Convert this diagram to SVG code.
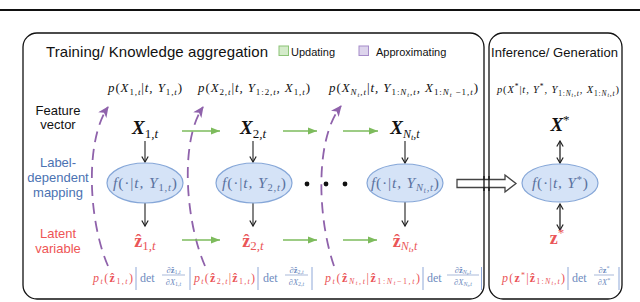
<svg xmlns="http://www.w3.org/2000/svg" width="640" height="302" viewBox="0 0 640 302">
<style>
.sans{font-family:"Liberation Sans",Arial,sans-serif}
.mi{font-family:"Liberation Serif","DejaVu Serif",serif;font-style:italic}
.up{font-style:normal}
.bf{font-weight:bold}
.nw{font-weight:normal}
.box{fill:none;stroke:#111;stroke-width:1.3}
.ell{fill:#d5e3f7;stroke:#86a7d8;stroke-width:1.2}
.et{fill:#5a72a0;font-size:15.5px}
.red{fill:#ea5558}
.blu{fill:#6f8cc0}
.bar{stroke:#8fa8d8;stroke-width:1}
.fl{stroke:#6f8cc0;stroke-width:0.6}
.ga{stroke:#7dbb5c;stroke-width:1.3;fill:none;marker-end:url(#ag)}
.ka{stroke:#333;stroke-width:1.2;fill:none;marker-end:url(#ak)}
.kd{stroke:#111;stroke-width:1.2;fill:none;marker-end:url(#ak);marker-start:url(#aks)}
.pd{stroke:#8f62ab;stroke-width:1.8;fill:none;stroke-dasharray:11 7;marker-end:url(#ap)}
</style>
<defs>
<marker id="ak" markerWidth="8" markerHeight="8" refX="6.5" refY="4" orient="auto" markerUnits="userSpaceOnUse"><path d="M1,0.8 L6.5,4 L1,7.2" fill="none" stroke="#222" stroke-width="1.2"/></marker>
<marker id="aks" markerWidth="8" markerHeight="8" refX="6.5" refY="4" orient="auto-start-reverse" markerUnits="userSpaceOnUse"><path d="M1,0.8 L6.5,4 L1,7.2" fill="none" stroke="#222" stroke-width="1.2"/></marker>
<marker id="ag" markerWidth="10" markerHeight="8" refX="9" refY="4" orient="auto" markerUnits="userSpaceOnUse"><path d="M0,0.5 L9,4 L0,7.5 z" fill="#7dbb5c"/></marker>
<marker id="ap" markerWidth="12" markerHeight="12" refX="10" refY="5" orient="auto" markerUnits="userSpaceOnUse"><path d="M0,0 L11,5 L0,10 L3,5 z" fill="#8f62ab"/></marker>
</defs>
<rect width="640" height="302" fill="#fff"/>
<line x1="0" y1="10" x2="640" y2="10" stroke="#111" stroke-width="1.8"/>

<g id="training-panel">
<rect class="box" x="23" y="33" width="461" height="266" rx="14"/>
<text class="sans" x="46" y="57" font-size="15" textLength="222" fill="#111">Training/ Knowledge aggregation</text>
<rect x="279" y="46" width="9.5" height="9.5" fill="#d4ebca" stroke="#8cc477" stroke-width="1"/>
<text class="sans" x="291" y="56" font-size="11" fill="#111">Updating</text>
<rect x="359" y="46" width="9.5" height="9.5" fill="#ddd4ec" stroke="#a68cc9" stroke-width="1"/>
<text class="sans" x="376" y="56" font-size="11" fill="#111">Approximating</text>
</g>
<g id="inference-panel">
<rect class="box" x="489" y="33" width="133" height="266" rx="14"/>
<text class="sans" x="491" y="57" font-size="13" textLength="127" fill="#111">Inference/ Generation</text>
</g>

<g id="row-labels" class="sans" font-size="13" text-anchor="middle">
<text x="58" y="115" fill="#111">Feature</text>
<text x="58" y="129" fill="#111">vector</text>
<text x="58" y="167" fill="#4b72b2">Label-</text>
<text x="58" y="182" fill="#4b72b2">dependent</text>
<text x="58" y="197" fill="#4b72b2">mapping</text>
<text x="58" y="238" fill="#ee5555">Latent</text>
<text x="58" y="253" fill="#ee5555">variable</text>
</g>

<g id="top-formulas" class="mi" fill="#111">
<text x="108" y="92" font-size="13" textLength="74">p<tspan class="up">(</tspan>X<tspan font-size="9" dy="3"><tspan class="up">1</tspan>,t</tspan><tspan font-size="13" dy="-3" class="up">|</tspan>t, Y<tspan font-size="9" dy="3"><tspan class="up">1</tspan>,t</tspan><tspan font-size="13" dy="-3" class="up">)</tspan></text>
<text x="198" y="92" font-size="13" textLength="112">p<tspan class="up">(</tspan>X<tspan font-size="9" dy="3"><tspan class="up">2</tspan>,t</tspan><tspan font-size="13" dy="-3" class="up">|</tspan>t, Y<tspan font-size="9" dy="3"><tspan class="up">1:2</tspan>,t</tspan><tspan font-size="13" dy="-3">, X</tspan><tspan font-size="9" dy="3"><tspan class="up">1</tspan>,t</tspan><tspan font-size="13" dy="-3" class="up">)</tspan></text>
<text x="329" y="92" font-size="13" textLength="149">p<tspan class="up">(</tspan>X<tspan font-size="9" dy="3">N</tspan><tspan font-size="6.5" dy="1.5">t</tspan><tspan font-size="9" dy="-1.5">,t</tspan><tspan font-size="13" dy="-3" class="up">|</tspan>t, Y<tspan font-size="9" dy="3"><tspan class="up">1:</tspan>N</tspan><tspan font-size="6.5" dy="1.5">t</tspan><tspan font-size="9" dy="-1.5">,t</tspan><tspan font-size="13" dy="-3">, X</tspan><tspan font-size="9" dy="3"><tspan class="up">1:</tspan>N</tspan><tspan font-size="6.5" dy="1.5">t</tspan><tspan font-size="9" dy="-1.5"><tspan class="up"> −1</tspan>,t</tspan><tspan font-size="13" dy="-3" class="up">)</tspan></text>
<text x="497" y="93" font-size="10.5" textLength="122">p<tspan class="up">(</tspan>X<tspan font-size="7.5" dy="-4" class="up">*</tspan><tspan font-size="10.5" dy="4" class="up">|</tspan>t, Y<tspan font-size="7.5" dy="-4" class="up">*</tspan><tspan font-size="10.5" dy="4">, Y</tspan><tspan font-size="7.5" dy="2.5"><tspan class="up">1:</tspan>N</tspan><tspan font-size="5.5" dy="1.2">t</tspan><tspan font-size="7.5" dy="-1.2">,t</tspan><tspan font-size="10.5" dy="-2.5">, X</tspan><tspan font-size="7.5" dy="2.5"><tspan class="up">1:</tspan>N</tspan><tspan font-size="5.5" dy="1.2">t</tspan><tspan font-size="7.5" dy="-1.2">,t</tspan><tspan font-size="10.5" dy="-2.5" class="up">)</tspan></text>
</g>

<g id="connectors">
<path class="pd" d="M108,266 C88,220 85,140 108,107"/>
<path class="pd" d="M205,266 C185,220 180,140 203,107"/>
<path class="pd" d="M334,266 C318,220 314,140 341,106"/>
<line class="ga" x1="182" y1="131" x2="220" y2="131"/>
<line class="ga" x1="283" y1="131" x2="317" y2="131"/>
<line class="ga" x1="343" y1="131" x2="378" y2="131"/>
<line class="ga" x1="182" y1="240" x2="220" y2="240"/>
<line class="ga" x1="283" y1="240" x2="317" y2="240"/>
<line class="ga" x1="343" y1="240" x2="377" y2="240"/>
<line class="ka" x1="145" y1="141" x2="145" y2="162"/>
<line class="ka" x1="253" y1="141" x2="253" y2="162"/>
<line class="ka" x1="405" y1="141" x2="405" y2="163"/>
<line class="ka" x1="145" y1="203" x2="145" y2="226"/>
<line class="ka" x1="253" y1="203" x2="253" y2="226"/>
<line class="ka" x1="405" y1="202" x2="405" y2="226"/>
<line class="kd" x1="560" y1="141" x2="560" y2="163"/>
<line class="kd" x1="560" y1="204" x2="560" y2="230"/>
<polygon points="457,179.5 505,179.5 505,175 516,183.5 505,192 505,187.5 457,187.5" fill="#fff" stroke="#444" stroke-width="1.3"/>
<line x1="484" y1="176" x2="484" y2="191" stroke="#111" stroke-width="1.3"/>
<line x1="489" y1="176" x2="489" y2="191" stroke="#111" stroke-width="1.3"/>
</g>

<g id="x1">
<text class="mi bf" x="145" y="134" font-size="19" text-anchor="middle" fill="#111">X<tspan class="nw" font-size="13" dy="4"><tspan class="up">1</tspan>,t</tspan></text>
</g>
<g id="x2">
<text class="mi bf" x="253" y="134" font-size="19" text-anchor="middle" fill="#111">X<tspan class="nw" font-size="13" dy="4"><tspan class="up">2</tspan>,t</tspan></text>
</g>
<g id="xN">
<text class="mi bf" x="405" y="134" font-size="19" text-anchor="middle" fill="#111">X<tspan class="nw" font-size="12" dy="4">N</tspan><tspan class="nw" font-size="8.5" dy="2">t</tspan><tspan class="nw" font-size="12" dy="-2">,t</tspan></text>
</g>
<g id="xstar">
<text class="mi bf" x="560" y="131" font-size="19" text-anchor="middle" fill="#111">X<tspan class="nw up" font-size="13" dy="-7">*</tspan></text>
</g>

<g id="f1">
<ellipse class="ell" cx="145" cy="183" rx="38" ry="20"/>
<text class="mi et" x="145" y="188" text-anchor="middle" textLength="64">f<tspan class="up">(·|</tspan>t, Y<tspan font-size="10.5" dy="3"><tspan class="up">1</tspan>,t</tspan><tspan font-size="15.5" dy="-3" class="up">)</tspan></text>
</g>
<g id="f2">
<ellipse class="ell" cx="254" cy="183" rx="38" ry="20"/>
<text class="mi et" x="254" y="188" text-anchor="middle" textLength="64">f<tspan class="up">(·|</tspan>t, Y<tspan font-size="10.5" dy="3"><tspan class="up">2</tspan>,t</tspan><tspan font-size="15.5" dy="-3" class="up">)</tspan></text>
</g>
<g id="dots" fill="#111">
<circle cx="307" cy="184" r="2.4"/><circle cx="326" cy="184" r="2.4"/><circle cx="345" cy="184" r="2.4"/>
</g>
<g id="fN">
<ellipse class="ell" cx="405" cy="183" rx="38" ry="19"/>
<text class="mi et" x="405" y="188" text-anchor="middle" textLength="68">f<tspan class="up">(·|</tspan>t, Y<tspan font-size="10.5" dy="3">N</tspan><tspan font-size="7.5" dy="1.5">t</tspan><tspan font-size="10.5" dy="-1.5">,t</tspan><tspan font-size="15.5" dy="-3" class="up">)</tspan></text>
</g>
<g id="fstar">
<ellipse class="ell" cx="560" cy="183" rx="38" ry="19"/>
<text class="mi et" x="560" y="188" text-anchor="middle" textLength="56">f<tspan class="up">(·|</tspan>t, Y<tspan font-size="10.5" dy="-5" class="up">*</tspan><tspan font-size="15.5" dy="5" class="up">)</tspan></text>
</g>

<g id="z1">
<text class="mi red" x="145" y="247" font-size="18" text-anchor="middle"><tspan class="up bf">ẑ</tspan><tspan font-size="13" dy="3"><tspan class="up">1</tspan>,t</tspan></text>
</g>
<g id="z2">
<text class="mi red" x="253" y="247" font-size="18" text-anchor="middle"><tspan class="up bf">ẑ</tspan><tspan font-size="13" dy="3"><tspan class="up">2</tspan>,t</tspan></text>
</g>
<g id="zN">
<text class="mi red" x="405" y="247" font-size="18" text-anchor="middle"><tspan class="up bf">ẑ</tspan><tspan font-size="12" dy="3">N</tspan><tspan font-size="8.5" dy="2">t</tspan><tspan font-size="12" dy="-2">,t</tspan></text>
</g>
<g id="zstar">
<text class="mi red" x="557" y="244" font-size="18" text-anchor="middle"><tspan class="up bf">z</tspan><tspan font-size="13" dy="-7" class="up">*</tspan></text>
</g>

<g id="bottom-formulas" class="mi">
<text class="red" x="93" y="282" font-size="12" textLength="40">p<tspan font-size="8" dy="2">t</tspan><tspan font-size="12" dy="-2" class="up">(</tspan><tspan class="up bf">ẑ</tspan><tspan font-size="8" dy="2"><tspan class="up">1</tspan>,t</tspan><tspan font-size="12" dy="-2" class="up">)</tspan></text>
<line class="bar" x1="136" y1="267" x2="136" y2="290"/>
<text class="blu" x="140" y="282" font-size="12" style="font-style:normal">det</text>
<text class="blu" x="173.5" y="272.5" font-size="8.5" text-anchor="middle">∂<tspan class="up bf">ẑ</tspan><tspan font-size="6" dy="1.5"><tspan class="up">1</tspan>,t</tspan></text>
<line class="fl" x1="162" y1="275" x2="185" y2="275"/>
<text class="blu" x="173.5" y="284.5" font-size="8.5" text-anchor="middle">∂X<tspan font-size="6" dy="1.5"><tspan class="up">1</tspan>,t</tspan></text>
<line class="bar" x1="190" y1="267" x2="190" y2="290"/>

<text class="red" x="194" y="282" font-size="12" textLength="61">p<tspan font-size="8" dy="2">t</tspan><tspan font-size="12" dy="-2" class="up">(</tspan><tspan class="up bf">ẑ</tspan><tspan font-size="8" dy="2"><tspan class="up">2</tspan>,t</tspan><tspan font-size="12" dy="-2" class="up">|</tspan><tspan class="up bf">ẑ</tspan><tspan font-size="8" dy="2"><tspan class="up">1</tspan>,t</tspan><tspan font-size="12" dy="-2" class="up">)</tspan></text>
<line class="bar" x1="258" y1="267" x2="258" y2="290"/>
<text class="blu" x="263" y="282" font-size="12" style="font-style:normal">det</text>
<text class="blu" x="296.5" y="272.5" font-size="8.5" text-anchor="middle">∂<tspan class="up bf">ẑ</tspan><tspan font-size="6" dy="1.5"><tspan class="up">2</tspan>,t</tspan></text>
<line class="fl" x1="285" y1="275" x2="308" y2="275"/>
<text class="blu" x="296.5" y="284.5" font-size="8.5" text-anchor="middle">∂X<tspan font-size="6" dy="1.5"><tspan class="up">2</tspan>,t</tspan></text>
<line class="bar" x1="312" y1="267" x2="312" y2="290"/>

<text class="red" x="325" y="282" font-size="12" textLength="95">p<tspan font-size="8" dy="2">t</tspan><tspan font-size="12" dy="-2" class="up">(</tspan><tspan class="up bf">ẑ</tspan><tspan font-size="8" dy="2">N</tspan><tspan font-size="6" dy="1">t</tspan><tspan font-size="8" dy="-1">,t</tspan><tspan font-size="12" dy="-2" class="up">|</tspan><tspan class="up bf">ẑ</tspan><tspan font-size="8" dy="2"><tspan class="up">1:</tspan>N</tspan><tspan font-size="6" dy="1">t</tspan><tspan font-size="8" dy="-1"><tspan class="up">−1</tspan>,t</tspan><tspan font-size="12" dy="-2" class="up">)</tspan></text>
<line class="bar" x1="423" y1="267" x2="423" y2="290"/>
<text class="blu" x="427" y="282" font-size="12" style="font-style:normal">det</text>
<text class="blu" x="463" y="272.5" font-size="8.5" text-anchor="middle">∂<tspan class="up bf">ẑ</tspan><tspan font-size="6" dy="1.5">N</tspan><tspan font-size="4.5" dy="0.8">t</tspan><tspan font-size="6" dy="-0.8">,t</tspan></text>
<line class="fl" x1="447" y1="275" x2="479" y2="275"/>
<text class="blu" x="463" y="284.5" font-size="8.5" text-anchor="middle">∂X<tspan font-size="6" dy="1.5">N</tspan><tspan font-size="4.5" dy="0.8">t</tspan><tspan font-size="6" dy="-0.8">,t</tspan></text>
<line class="bar" x1="481.5" y1="267" x2="481.5" y2="290"/>

<text class="red" x="502" y="282" font-size="12" textLength="63">p<tspan class="up">(</tspan><tspan class="up bf">z</tspan><tspan font-size="8" dy="-4" class="up">*</tspan><tspan font-size="12" dy="4" class="up">|</tspan><tspan class="up bf">ẑ</tspan><tspan font-size="8" dy="2"><tspan class="up">1:</tspan>N</tspan><tspan font-size="6" dy="1">t</tspan><tspan font-size="8" dy="-1">,t</tspan><tspan font-size="12" dy="-2" class="up">)</tspan></text>
<line class="bar" x1="568" y1="267" x2="568" y2="290"/>
<text class="blu" x="572" y="282" font-size="12" style="font-style:normal">det</text>
<text class="blu" x="604" y="272.5" font-size="8.5" text-anchor="middle">∂<tspan class="up bf">z</tspan><tspan font-size="6" dy="-3" class="up">*</tspan></text>
<line class="fl" x1="594" y1="275" x2="614" y2="275"/>
<text class="blu" x="604" y="284.5" font-size="8.5" text-anchor="middle">∂X<tspan font-size="6" dy="-3" class="up">*</tspan></text>
<line class="bar" x1="619" y1="267" x2="619" y2="290"/>
</g>
</svg>
